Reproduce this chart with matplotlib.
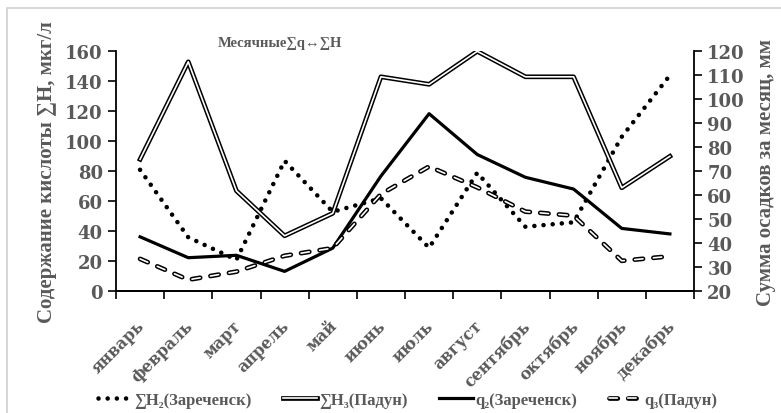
import matplotlib
matplotlib.use("Agg")
import matplotlib.pyplot as plt
import matplotlib.patheffects as pe
from matplotlib.patches import Rectangle

plt.rcParams['lines.scale_dashes'] = False
plt.rcParams['font.family'] = ['DejaVu Serif']
plt.rcParams['font.weight'] = 'bold'

months = ['январь', 'февраль', 'март', 'апрель', 'май', 'июнь', 'июль',
          'август', 'сентябрь', 'октябрь', 'ноябрь', 'декабрь']

# кислота, мкг/л (левая ось)
h2_zar = [81, 36, 21, 87, 53, 62, 29, 79, 43, 46, 103, 144]
h3_pad = [88, 153, 67, 37, 52, 143, 138, 160, 143, 143, 69, 90]
# осадки, мм (правая ось)
q2_zar = [42.7, 34, 35, 28.3, 38, 68, 94, 77, 67.5, 62.6, 46.2, 43.9]
q3_pad = [33.5, 24.8, 28.2, 34.8, 38, 60.5, 72, 63.3, 53.2, 51.5, 32.7, 34.6]

grey = '#595959'
serif = ['Liberation Serif', 'DejaVu Serif']
x = list(range(len(months)))

fig = plt.figure(figsize=(7.81, 4.14), dpi=100)
fig.patches.append(Rectangle((7 / 781, -0.1), 1.2, 1 - 9 / 414 + 0.1,
                             transform=fig.transFigure, fill=False,
                             edgecolor='#d0d0d0', lw=1.2))
ax = fig.add_axes([116 / 781, 1 - 292.3 / 414, (694 - 116) / 781, 240 / 414])
ax2 = ax.twinx()

double = [pe.Stroke(linewidth=3.4, foreground='black'), pe.Normal()]
outlined = [pe.Stroke(linewidth=3.4, foreground='black', capstyle='round'),
            pe.Normal()]

l1, = ax.plot(x, h2_zar, color='black', lw=3.3, linestyle=(0, (0.01, 6.6)),
              dash_capstyle='round', label='∑H₂(Зареченск)')
l2, = ax.plot(x, h3_pad, color='white', lw=1.2, path_effects=double,
              label='∑H₃(Падун)')
l3, = ax2.plot(x, q2_zar, color='black', lw=2.3, label='q₂(Зареченск)')
l4, = ax2.plot(x, q3_pad, color='white', lw=1.2, linestyle=(0, (6, 7.5)),
               dash_capstyle='round', path_effects=outlined, label='q₃(Падун)')

ax.set_xlim(-0.5, 11.5)
ax.set_ylim(0, 160)
ax2.set_ylim(20, 120)
ax.set_yticks(range(0, 161, 20))
ax2.set_yticks(range(20, 121, 10))
ax.set_xticks([i - 0.5 for i in range(13)])
ax.set_xticklabels([])
for i, m in enumerate(months):
    ax.text(i - 0.08, -17, m, rotation=45, ha='right', va='top',
            rotation_mode='anchor', fontsize=11.5, color=grey)

for a in (ax, ax2):
    a.spines['top'].set_visible(False)
    for s in a.spines.values():
        s.set_linewidth(1.3)
    a.tick_params(axis='y', labelsize=13, labelcolor=grey, length=6, width=1.2)
ax.tick_params(axis='x', length=6, width=1.2)
ax2.spines['left'].set_visible(False)
ax.spines['right'].set_visible(False)

ax.set_ylabel('Содержание кислоты ∑H, мкг/л', fontsize=15, color=grey,
              family=serif, fontweight='bold', labelpad=6)
ax2.set_ylabel('Сумма осадков за месяц, мм', fontsize=15, color=grey,
               family=serif, fontweight='bold', labelpad=8)

fig.text(280 / 781, 1 - 43 / 414, 'Месячные∑q↔∑H', ha='center', va='center',
         fontsize=10.5, color=grey, family=serif, fontweight='bold')

leg = fig.legend([l1, l2, l3, l4],
                 [l.get_label() for l in (l1, l2, l3, l4)],
                 loc='center', bbox_to_anchor=(408 / 781, 1 - 401 / 414),
                 ncol=4, frameon=False, handlelength=2.0,
                 handletextpad=0.15, columnspacing=1.9,
                 prop={'family': serif, 'weight': 'bold', 'size': 12})
for t in leg.get_texts():
    t.set_color(grey)

fig.savefig('out.png', dpi=100)
